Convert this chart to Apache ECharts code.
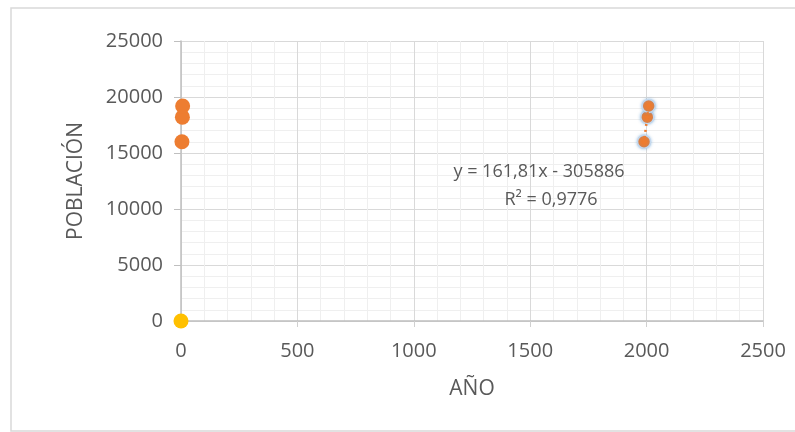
<!DOCTYPE html>
<html>
<head>
<meta charset="utf-8">
<script src="https://cdn.jsdelivr.net/npm/echarts@6/dist/echarts.min.js"></script>
<style>html,body{margin:0;padding:0;background:#fff}#c{width:795px;height:432px}</style>
</head>
<body>
<div id="c"></div>
<script>
// Data
const leftX = [4, 6, 7];
const leftY = [16000, 18200, 19200];
const originX = [0];
const originY = [0];
const yearX = [1989, 2003, 2009];
const yearY = [16000, 18200, 19200];
const trendX = [1988, 2010];
const trendY = [15820, 19380];
const xTicks = [0, 500, 1000, 1500, 2000, 2500];
const yTicks = [0, 5000, 10000, 15000, 20000, 25000];
const eqLines = ['y = 161,81x - 305886', 'R² = 0,9776'];

const zip = (a, b) => a.map((v, i) => [v, b[i]]);
const FONT = '"Open Sans"';
const GRAY = '#595959';

const chart = echarts.init(document.getElementById('c'), null, {renderer: 'canvas'});
chart.setOption({
  animation: false,
  backgroundColor: '#fff',
  textStyle: {fontFamily: FONT},
  grid: {left: 181, right: 32, top: 41, bottom: 111, containLabel: false},
  xAxis: {
    type: 'value', min: xTicks[0], max: xTicks[xTicks.length - 1], interval: 500,
    name: 'AÑO', nameLocation: 'middle', nameGap: 58,
    nameTextStyle: {color: GRAY, fontSize: 21, fontFamily: FONT},
    axisLine: {show: true, onZero: false, lineStyle: {color: '#bfbfbf', width: 1.5}},
    axisTick: {show: true, length: 6, lineStyle: {color: '#d0d0d0'}},
    axisLabel: {color: GRAY, fontSize: 20, margin: 20, fontFamily: FONT, formatter: v => String(v)},
    splitLine: {show: true, lineStyle: {color: '#d9d9d9', width: 1}},
    minorTick: {show: false, splitNumber: 5},
    minorSplitLine: {show: true, lineStyle: {color: '#efefef', width: 1}}
  },
  yAxis: {
    type: 'value', min: yTicks[0], max: yTicks[yTicks.length - 1], interval: 5000,
    name: 'POBLACIÓN', nameLocation: 'middle', nameGap: 94, nameRotate: 90,
    nameTextStyle: {color: GRAY, fontSize: 21, fontFamily: FONT},
    axisLine: {show: true, onZero: false, lineStyle: {color: '#bfbfbf', width: 1.5}},
    axisTick: {show: true, length: 7, lineStyle: {color: '#bfbfbf'}},
    axisLabel: {color: GRAY, fontSize: 20, margin: 18, fontFamily: FONT, formatter: v => String(v)},
    splitLine: {show: true, lineStyle: {color: '#d9d9d9', width: 1}},
    minorTick: {show: false, splitNumber: 5},
    minorSplitLine: {show: true, lineStyle: {color: '#efefef', width: 1}}
  },
  graphic: [
    {type: 'rect', shape: {x: 11, y: 8, width: 800, height: 423},
     style: {fill: 'none', stroke: '#d9d9d9', lineWidth: 1.5}, silent: true, z: -10},
    {type: 'text', x: 539, y: 172, style: {text: eqLines[0], fill: GRAY, font: '18px ' + FONT, textAlign: 'center', textVerticalAlign: 'middle'}, z: 10},
    {type: 'text', x: 551, y: 200, style: {text: eqLines[1], fill: GRAY, font: '18px ' + FONT, textAlign: 'center', textVerticalAlign: 'middle'}, z: 10}
  ],
  series: [
    {type: 'scatter', data: zip(leftX, leftY), symbolSize: 15,
     itemStyle: {color: '#ED7D31', opacity: 1}, z: 3},
    {type: 'scatter', data: zip(originX, originY), symbolSize: 15,
     itemStyle: {color: '#FFC000', opacity: 1}, z: 4},
    {type: 'scatter', data: zip(yearX, yearY), symbolSize: 13,
     itemStyle: {color: '#ED7D31', opacity: 1, borderColor: '#c3d8ee', borderWidth: 1.5,
       shadowBlur: 3, shadowColor: 'rgba(91,155,213,0.5)'}, z: 3},
    {type: 'line', data: zip(trendX, trendY), symbol: 'none',
     lineStyle: {color: '#ED7D31', width: 2.5, type: [2, 4]}, z: 5}
  ]
});
</script>
</body>
</html>
